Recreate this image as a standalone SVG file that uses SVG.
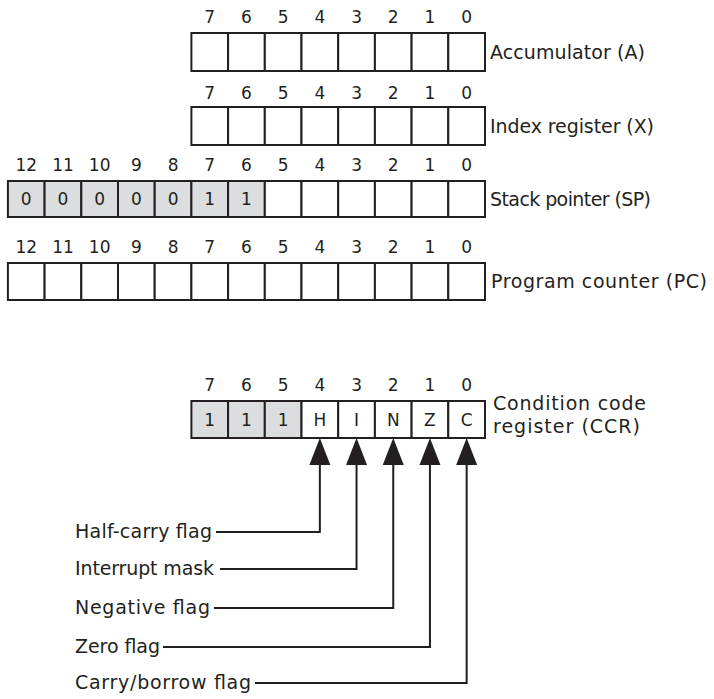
<svg xmlns="http://www.w3.org/2000/svg" width="714" height="699" viewBox="0 0 714 699">
<style>
.c{fill:#fff;stroke:#231f20;stroke-width:2}
.g{fill:#dcdddf;stroke:#231f20;stroke-width:2}
.t{font-family:"DejaVu Sans",sans-serif;font-size:19px;fill:#231f20}
.d{font-family:"DejaVu Sans",sans-serif;font-size:17px;fill:#231f20;text-anchor:middle}
.ln{fill:none;stroke:#231f20;stroke-width:2}
.ah{fill:#231f20}
</style>
<rect width="714" height="699" fill="#fff"/>
<g id="acc">
<g class="d"><text x="209.75" y="23">7</text><text x="246.45" y="23">6</text><text x="283.15" y="23">5</text><text x="319.85" y="23">4</text><text x="356.55" y="23">3</text><text x="393.25" y="23">2</text><text x="429.95" y="23">1</text><text x="466.65" y="23">0</text></g>
<rect class="c" x="191.4" y="33" width="36.7" height="38"/><rect class="c" x="228.1" y="33" width="36.7" height="38"/><rect class="c" x="264.8" y="33" width="36.7" height="38"/><rect class="c" x="301.5" y="33" width="36.7" height="38"/><rect class="c" x="338.2" y="33" width="36.7" height="38"/><rect class="c" x="374.9" y="33" width="36.7" height="38"/><rect class="c" x="411.6" y="33" width="36.7" height="38"/><rect class="c" x="448.3" y="33" width="36.7" height="38"/>
<text class="t" x="490" y="59" textLength="155">Accumulator (A)</text>
</g>
<g id="idx">
<g class="d"><text x="209.75" y="99">7</text><text x="246.45" y="99">6</text><text x="283.15" y="99">5</text><text x="319.85" y="99">4</text><text x="356.55" y="99">3</text><text x="393.25" y="99">2</text><text x="429.95" y="99">1</text><text x="466.65" y="99">0</text></g>
<rect class="c" x="191.4" y="107" width="36.7" height="38"/><rect class="c" x="228.1" y="107" width="36.7" height="38"/><rect class="c" x="264.8" y="107" width="36.7" height="38"/><rect class="c" x="301.5" y="107" width="36.7" height="38"/><rect class="c" x="338.2" y="107" width="36.7" height="38"/><rect class="c" x="374.9" y="107" width="36.7" height="38"/><rect class="c" x="411.6" y="107" width="36.7" height="38"/><rect class="c" x="448.3" y="107" width="36.7" height="38"/>
<text class="t" x="490" y="133" textLength="164">Index register (X)</text>
</g>
<g id="sp">
<g class="d"><text x="26.25" y="171">12</text><text x="62.95" y="171">11</text><text x="99.65" y="171">10</text><text x="136.35" y="171">9</text><text x="173.05" y="171">8</text><text x="209.75" y="171">7</text><text x="246.45" y="171">6</text><text x="283.15" y="171">5</text><text x="319.85" y="171">4</text><text x="356.55" y="171">3</text><text x="393.25" y="171">2</text><text x="429.95" y="171">1</text><text x="466.65" y="171">0</text></g>
<rect class="g" x="7.9" y="181" width="36.7" height="36"/><rect class="g" x="44.6" y="181" width="36.7" height="36"/><rect class="g" x="81.3" y="181" width="36.7" height="36"/><rect class="g" x="118" y="181" width="36.7" height="36"/><rect class="g" x="154.7" y="181" width="36.7" height="36"/><rect class="g" x="191.4" y="181" width="36.7" height="36"/><rect class="g" x="228.1" y="181" width="36.7" height="36"/>
<rect class="c" x="264.8" y="181" width="36.7" height="36"/><rect class="c" x="301.5" y="181" width="36.7" height="36"/><rect class="c" x="338.2" y="181" width="36.7" height="36"/><rect class="c" x="374.9" y="181" width="36.7" height="36"/><rect class="c" x="411.6" y="181" width="36.7" height="36"/><rect class="c" x="448.3" y="181" width="36.7" height="36"/>
<g class="d"><text x="26.25" y="205">0</text><text x="62.95" y="205">0</text><text x="99.65" y="205">0</text><text x="136.35" y="205">0</text><text x="173.05" y="205">0</text><text x="209.75" y="205">1</text><text x="246.45" y="205">1</text></g>
<text class="t" x="490" y="206" textLength="161">Stack pointer (SP)</text>
</g>
<g id="pc">
<g class="d"><text x="26.25" y="253">12</text><text x="62.95" y="253">11</text><text x="99.65" y="253">10</text><text x="136.35" y="253">9</text><text x="173.05" y="253">8</text><text x="209.75" y="253">7</text><text x="246.45" y="253">6</text><text x="283.15" y="253">5</text><text x="319.85" y="253">4</text><text x="356.55" y="253">3</text><text x="393.25" y="253">2</text><text x="429.95" y="253">1</text><text x="466.65" y="253">0</text></g>
<rect class="c" x="7.9" y="263" width="36.7" height="37"/><rect class="c" x="44.6" y="263" width="36.7" height="37"/><rect class="c" x="81.3" y="263" width="36.7" height="37"/><rect class="c" x="118" y="263" width="36.7" height="37"/><rect class="c" x="154.7" y="263" width="36.7" height="37"/><rect class="c" x="191.4" y="263" width="36.7" height="37"/><rect class="c" x="228.1" y="263" width="36.7" height="37"/><rect class="c" x="264.8" y="263" width="36.7" height="37"/><rect class="c" x="301.5" y="263" width="36.7" height="37"/><rect class="c" x="338.2" y="263" width="36.7" height="37"/><rect class="c" x="374.9" y="263" width="36.7" height="37"/><rect class="c" x="411.6" y="263" width="36.7" height="37"/><rect class="c" x="448.3" y="263" width="36.7" height="37"/>
<text class="t" x="491" y="288" textLength="216">Program counter (PC)</text>
</g>
<g id="ccr">
<g class="d"><text x="209.75" y="391">7</text><text x="246.45" y="391">6</text><text x="283.15" y="391">5</text><text x="319.85" y="391">4</text><text x="356.55" y="391">3</text><text x="393.25" y="391">2</text><text x="429.95" y="391">1</text><text x="466.65" y="391">0</text></g>
<rect class="g" x="191.4" y="401" width="36.7" height="37"/><rect class="g" x="228.1" y="401" width="36.7" height="37"/><rect class="g" x="264.8" y="401" width="36.7" height="37"/><rect class="c" x="301.5" y="401" width="36.7" height="37"/><rect class="c" x="338.2" y="401" width="36.7" height="37"/><rect class="c" x="374.9" y="401" width="36.7" height="37"/><rect class="c" x="411.6" y="401" width="36.7" height="37"/><rect class="c" x="448.3" y="401" width="36.7" height="37"/>
<g class="d"><text x="209.75" y="426">1</text><text x="246.45" y="426">1</text><text x="283.15" y="426">1</text><text x="319.85" y="426">H</text><text x="356.55" y="426">I</text><text x="393.25" y="426">N</text><text x="429.95" y="426">Z</text><text x="466.65" y="426">C</text></g>
<text class="t" x="493" y="410" textLength="153">Condition code</text>
<text class="t" x="493" y="433" textLength="147">register (CCR)</text>
</g>
<g id="flag-labels" class="t">
<text x="75" y="538" textLength="137">Half-carry flag</text>
<text x="75" y="575" textLength="139">Interrupt mask</text>
<text x="75" y="614" textLength="135">Negative flag</text>
<text x="75" y="653" textLength="85">Zero flag</text>
<text x="75" y="689" textLength="176">Carry/borrow flag</text>
</g>
<g id="connectors">
<g class="ah">
<polygon points="319.85,438 309.35,465 330.35,465"/>
<polygon points="356.55,438 346.05,465 367.05,465"/>
<polygon points="393.25,438 382.75,465 403.75,465"/>
<polygon points="429.95,438 419.45,465 440.45,465"/>
<polygon points="466.65,438 456.15,465 477.15,465"/>
</g>
<polyline class="ln" points="216,532 319.85,532 319.85,464"/>
<polyline class="ln" points="220,569 356.55,569 356.55,464"/>
<polyline class="ln" points="214,608 393.25,608 393.25,464"/>
<polyline class="ln" points="163,647 429.95,647 429.95,464"/>
<polyline class="ln" points="255,683 466.65,683 466.65,464"/>
</g>
</svg>
